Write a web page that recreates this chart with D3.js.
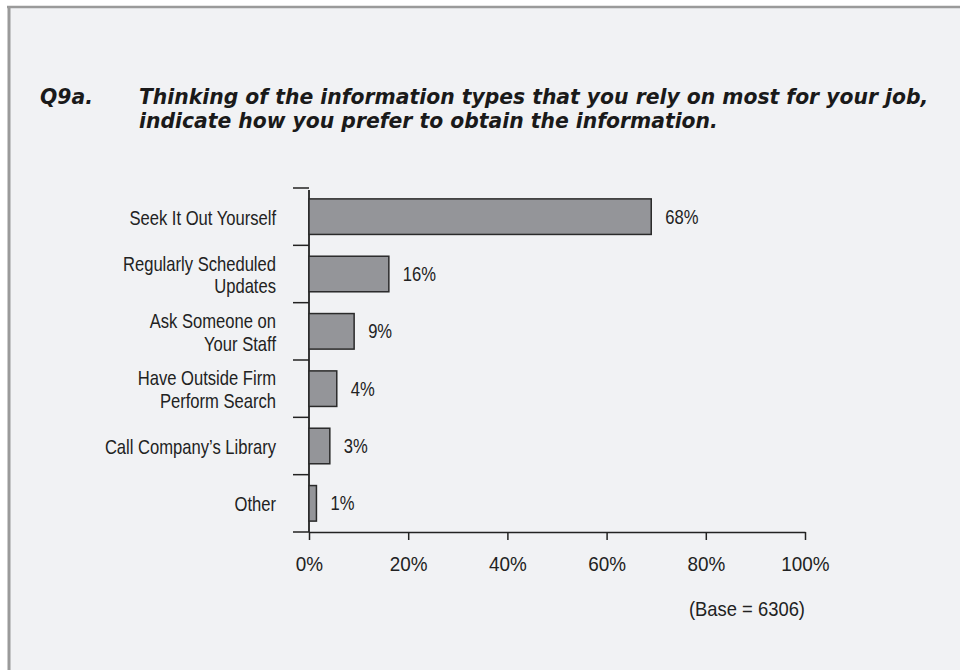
<!DOCTYPE html>
<html>
<head>
<meta charset="utf-8">
<script src="https://cdn.jsdelivr.net/npm/d3@7/dist/d3.min.js"></script>
<style>
  html, body { margin: 0; padding: 0; background: #ffffff; }
  svg { display: block; }
</style>
</head>
<body>
<svg id="chart" width="960" height="670"></svg>
<script>
// ---- data ----
const questionId = "Q9a.";
const titleLines = [
  "Thinking of the information types that you rely on most for your job,",
  "indicate how you prefer to obtain the information."
];
const categories = [
  "Seek It Out Yourself",
  "Regularly Scheduled|Updates",
  "Ask Someone on|Your Staff",
  "Have Outside Firm|Perform Search",
  "Call Company\u2019s Library",
  "Other"
];
// bar lengths as drawn in the picture (percent)
const values = [69, 16.1, 9.1, 5.6, 4.2, 1.5];
// printed value labels (percent)
const printedPercents = [68, 16, 9, 4, 3, 1];
const xTicks = [0, 20, 40, 60, 80, 100];
const baseNote = "(Base = 6306)";

// ---- drawing ----
const svg = d3.select("#chart");
const FONT = "'Liberation Sans', Arial, sans-serif";
const TEXT = "#222222";

// place a text element at (x,y) with horizontal condensing factor sx
function place(sel, px, py, sx) {
  sel.attr("x", 0).attr("y", 0)
    .attr("transform", `translate(${px},${py}) scale(${sx},1)`);
  return sel;
}

// panel
svg.append("rect").attr("x", 0).attr("y", 0).attr("width", 960).attr("height", 670).attr("fill", "#ffffff");
svg.append("rect").attr("x", 8).attr("y", 6).attr("width", 970).attr("height", 680)
  .attr("fill", "#f1f2f4");
svg.append("line").attr("x1", 7).attr("x2", 960).attr("y1", 7).attr("y2", 7)
  .attr("stroke", "#9a9a9a").attr("stroke-width", 2.5);
svg.append("line").attr("x1", 9).attr("x2", 9).attr("y1", 6).attr("y2", 670)
  .attr("stroke", "#9a9a9a").attr("stroke-width", 3);

// title
const title = svg.append("g")
  .attr("font-family", "'DejaVu Sans', 'Liberation Sans', sans-serif")
  .attr("font-weight", "bold").attr("font-style", "italic")
  .attr("font-size", 21).attr("fill", "#1a1a1a");
const qT = title.append("text").text(questionId);
const tT = title.selectAll("text.tl").data(titleLines).join("text").attr("class", "tl").text(d => d);
// fit title widths to the reference layout
{
  const w0 = tT.nodes()[0].getComputedTextLength();
  const sx = 790 / w0;
  place(qT, 40, 104, sx);
  tT.each(function (d, i) { place(d3.select(this), 139, 104 + i * 24, sx); });
}

// scales
const x = d3.scaleLinear().domain([0, 100]).range([309, 805]);
const y = d3.scaleBand().domain(categories).range([188, 532])
  .paddingInner(0.38).paddingOuter(0.19);

// x axis
const xAxis = svg.append("g").attr("transform", "translate(0,532)")
  .call(d3.axisBottom(x).tickValues(xTicks).tickFormat(d => d + "%")
    .tickSize(8).tickSizeOuter(0).tickPadding(16));
xAxis.select(".domain").attr("stroke", TEXT).attr("stroke-width", 1.5);
xAxis.selectAll(".tick line").attr("stroke", TEXT).attr("stroke-width", 1.5);
xAxis.selectAll(".tick text").attr("font-family", FONT).attr("font-size", 21).attr("fill", TEXT)
  .attr("transform", "scale(0.9,1)");

// category boundary ticks (left of the axis)
const boundaries = d3.range(categories.length + 1).map(i => y.range()[0] + i * y.step());
svg.append("g").selectAll("line").data(boundaries).join("line")
  .attr("x1", 293).attr("x2", x(0)).attr("y1", d => d).attr("y2", d => d)
  .attr("stroke", TEXT).attr("stroke-width", 1.5);

// y axis line
svg.append("line").attr("x1", x(0)).attr("x2", x(0))
  .attr("y1", boundaries[0] + 2).attr("y2", 532)
  .attr("stroke", TEXT).attr("stroke-width", 1.8);

// bars
svg.append("g").selectAll("rect").data(categories).join("rect")
  .attr("x", x(0))
  .attr("y", d => y(d))
  .attr("width", (d, i) => x(values[i]) - x(0))
  .attr("height", y.bandwidth())
  .attr("fill", "#949599")
  .attr("stroke", "#2a2a2a").attr("stroke-width", 1.5);

// value labels
svg.append("g").attr("font-family", FONT).attr("font-size", 20).attr("fill", TEXT)
  .selectAll("text").data(categories).join("text")
  .text((d, i) => printedPercents[i] + "%")
  .each(function (d, i) {
    place(d3.select(this), x(values[i]) + 14, y(d) + y.bandwidth() / 2 + 7, 0.83);
  });

// category labels
const catG = svg.append("g").attr("font-family", FONT).attr("font-size", 20)
  .attr("fill", TEXT).attr("text-anchor", "end");
categories.forEach(c => {
  const lines = c.split("|");
  const cy = y(c) + y.bandwidth() / 2;
  lines.forEach((ln, i) => {
    place(catG.append("text").text(ln), 276,
      cy + 8 + (i - (lines.length - 1) / 2) * 22.5, 0.83);
  });
});

// base note
place(svg.append("text").attr("text-anchor", "end")
  .attr("font-family", FONT).attr("font-size", 20).attr("fill", TEXT)
  .text(baseNote), 805, 616, 0.92);
</script>
</body>
</html>
